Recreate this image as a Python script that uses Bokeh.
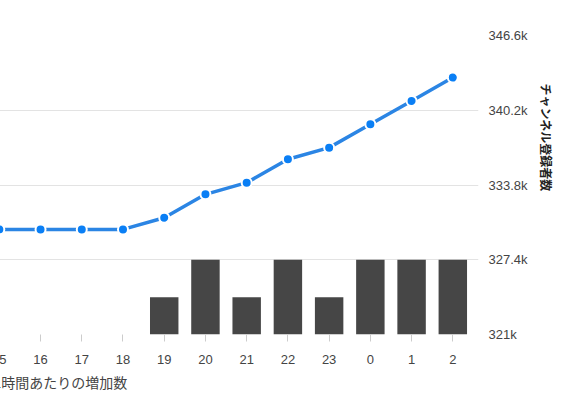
from bokeh.plotting import figure
from bokeh.models import (Range1d, LinearAxis, FixedTicker, Title, ColumnDataSource)
from bokeh.embed import file_html
from bokeh.resources import INLINE

# ---- data ----
hours = ["15", "16", "17", "18", "19", "20", "21", "22", "23", "0", "1", "2"]
subscribers = [330000, 330000, 330000, 330000, 331000, 333000, 334000, 336000, 337000, 339000, 341000, 343000]
increase = [0, 0, 0, 0, 1000, 2000, 1000, 2000, 1000, 2000, 2000, 2000]
y_ticks = [321000, 327400, 333800, 340200, 346600]
y_tick_labels = ["321k", "327.4k", "333.8k", "340.2k", "346.6k"]
y_title = "チャンネル登録者数"
x_title = "1時間あたりの増加数"

xs = list(range(len(hours)))
src = ColumnDataSource(dict(x=xs, sub=subscribers, inc=increase))

p = figure(width=573, height=395, output_backend="svg", toolbar_location=None,
           x_range=Range1d(-0.238, 11.623), y_range=Range1d(321000, 346600),
           min_border_left=0, min_border_top=35, min_border_bottom=61, min_border_right=84,
           y_axis_location=None)
p.styles = {"margin-left": "-11px"}
p.outline_line_color = None
p.background_fill_color = "white"
p.border_fill_color = "white"

p.extra_y_ranges = {"bars": Range1d(0, 8000)}

# grid
p.xgrid.visible = False
p.ygrid.ticker = FixedTicker(ticks=y_ticks)
p.ygrid.grid_line_color = "#e3e3e3"
p.ygrid.grid_line_width = 1

# bars
p.vbar(x="x", top="inc", bottom=0, width=0.69, source=src, y_range_name="bars",
       fill_color="#464646", line_color=None)

# line + markers
p.line(x="x", y="sub", source=src, line_color="#2b85e4", line_width=3.5)
p.scatter(x="x", y="sub", source=src, size=10, fill_color="#0a7ff5",
          line_color="white", line_width=2)

# x axis
xa = p.xaxis[0]
xa.ticker = FixedTicker(ticks=xs)
xa.major_label_overrides = {i: h for i, h in enumerate(hours)}
xa.axis_line_color = None
xa.major_tick_line_color = "#cccccc"
xa.major_tick_out = 7
xa.major_tick_in = 0
xa.minor_tick_line_color = None
xa.major_label_standoff = 13
xa.major_label_text_font = "Liberation Sans"
xa.major_label_text_font_size = "13px"
xa.major_label_text_color = "#444444"

# right axis
ra = LinearAxis(ticker=FixedTicker(ticks=y_ticks),
                major_label_overrides={t: l for t, l in zip(y_ticks, y_tick_labels)})
ra.axis_line_color = None
ra.major_tick_line_color = None
ra.major_tick_out = 0
ra.major_tick_in = 0
ra.minor_tick_line_color = None
ra.major_label_standoff = 10
ra.major_label_text_font = "Liberation Sans"
ra.major_label_text_font_size = "13px"
ra.major_label_text_color = "#444444"
p.add_layout(ra, "right")

# right axis title
p.add_layout(Title(text=y_title, align="left", offset=48, standoff=10, vertical_align="top",
                   text_font="Noto Sans CJK JP", text_font_size="12px",
                   text_font_style="bold", text_color="#222222"), "right")

# x axis title
p.add_layout(Title(text=x_title, align="left", offset=4, standoff=6,
                   text_font="Noto Sans CJK JP", text_font_size="14px",
                   text_font_style="normal", text_color="#444444"), "below")

open("out.html", "w").write(file_html(p, INLINE))
